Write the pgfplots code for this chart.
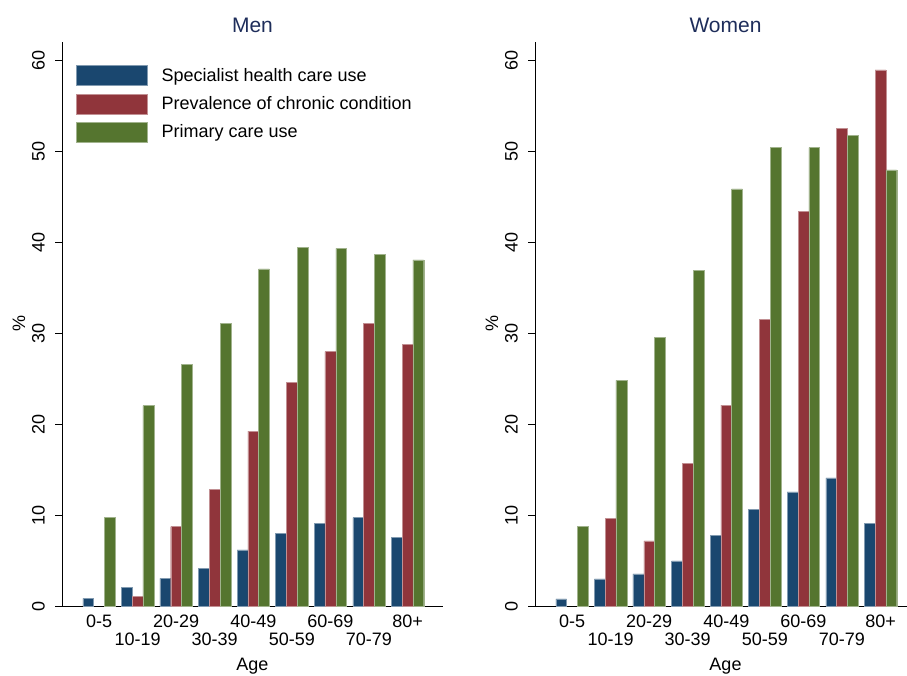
\documentclass[border=0pt]{standalone}
\usepackage{pgfplots}
\pgfplotsset{compat=1.18}
\usepackage{fontspec}
\setmainfont{Liberation Sans}
\definecolor{sblue}{RGB}{26,71,111}
\definecolor{sred}{RGB}{144,53,59}
\definecolor{sgreen}{RGB}{85,117,47}
\definecolor{titlec}{RGB}{30,45,90}
\newcommand{\fs}{\fontsize{18}{18}\selectfont}
\pgfplotsset{
 panel/.style={
  scale only axis, width=381pt, height=564pt,
  xmin=-0.96, xmax=8.92, ymin=0, ymax=62,
  axis x line=bottom, axis y line=left,
  axis line style={-, line width=0.8pt, black},
  ybar=0pt, bar width=0.28,
  tick align=outside, major tick length=7pt,
  xtick={0,2,4,6,8}, xticklabels={0-5,20-29,40-49,60-69,80+},
  extra x ticks={1,3,5,7}, extra x tick labels={10-19,30-39,50-59,70-79},
  xtick style={draw=none},
  extra x tick style={xtick style={draw=none}, tick label style={yshift=-18pt}},
  xticklabel style={inner sep=0pt, anchor=north, font=\fs, yshift=-1.5pt},
  ytick={0,10,...,60},
  ytick style={line width=0.8pt, black},
  yticklabel style={rotate=90, anchor=south, inner sep=0pt, font=\fs},
  yticklabel shift=10pt,
  /pgf/number format/assume math mode=true,
  every axis y label/.style={at={(axis description cs:-0.1129,0.5)}, rotate=90, anchor=center, font=\fs},
  every axis x label/.style={at={(axis description cs:0.5,0)}, anchor=north, yshift=-52pt, inner sep=0pt, font=\fs},
  title style={at={(axis description cs:0.5,1)}, anchor=base, yshift=3pt, font=\fontsize{21}{21}\selectfont, text=titlec},
  xlabel={Age}, ylabel={\%},
  legend image code/.code={\draw[#1] (0pt,-10pt) rectangle (71pt,10pt);},
  clip=false,
 },
 bblue/.style={fill=sblue, draw=sblue!55!white, line width=0.4pt},
 bred/.style={fill=sred, draw=sred!55!white, line width=0.4pt},
 bgreen/.style={fill=sgreen, draw=sgreen!55!white, line width=0.4pt},
}
\begin{document}
\begin{tikzpicture}
\path[use as bounding box] (0,0) rectangle (907pt,676pt);
\begin{scope}
\clip (0,0) rectangle (907pt,676pt);
\begin{axis}[panel, at={(62pt,70pt)}, anchor=south west, title={Men},
  legend style={draw=none, fill=none, at={(axis description cs:0,1)}, anchor=north west,
    xshift=14pt, yshift=-23pt, inner sep=0pt, row sep=8pt, column sep=14pt,
    nodes={inner sep=0pt, anchor=west}, font=\fs},
  legend cell align=left]
\addplot[bblue] coordinates {(0,0.84) (1,2.02) (2,3.04) (3,4.14) (4,6.17) (5,7.96) (6,9.06) (7,9.72) (8,7.56)};
\addplot[bred] coordinates {(1,1.03) (2,8.73) (3,12.84) (4,19.23) (5,24.59) (6,27.96) (7,31.06) (8,28.77)};
\addplot[bgreen] coordinates {(0,9.76) (1,22.02) (2,26.6) (3,31.06) (4,37.07) (5,39.45) (6,39.30) (7,38.64) (8,38.06)};
\legend{Specialist health care use, Prevalence of chronic condition, Primary care use}
\end{axis}
\begin{axis}[panel, at={(535pt,70pt)}, anchor=south west, title={Women}]
\addplot[bblue] coordinates {(0,0.77) (1,2.97) (2,3.52) (3,4.95) (4,7.74) (5,10.64) (6,12.55) (7,14.09) (8,9.10)};
\addplot[bred] coordinates {(1,9.61) (2,7.16) (3,15.67) (4,22.09) (5,31.5) (6,43.4) (7,52.53) (8,58.94)};
\addplot[bgreen] coordinates {(0,8.73) (1,24.81) (2,29.5) (3,36.92) (4,45.86) (5,50.4) (6,50.4) (7,51.76) (8,47.94)};
\end{axis}
\end{scope}
\end{tikzpicture}
\end{document}
